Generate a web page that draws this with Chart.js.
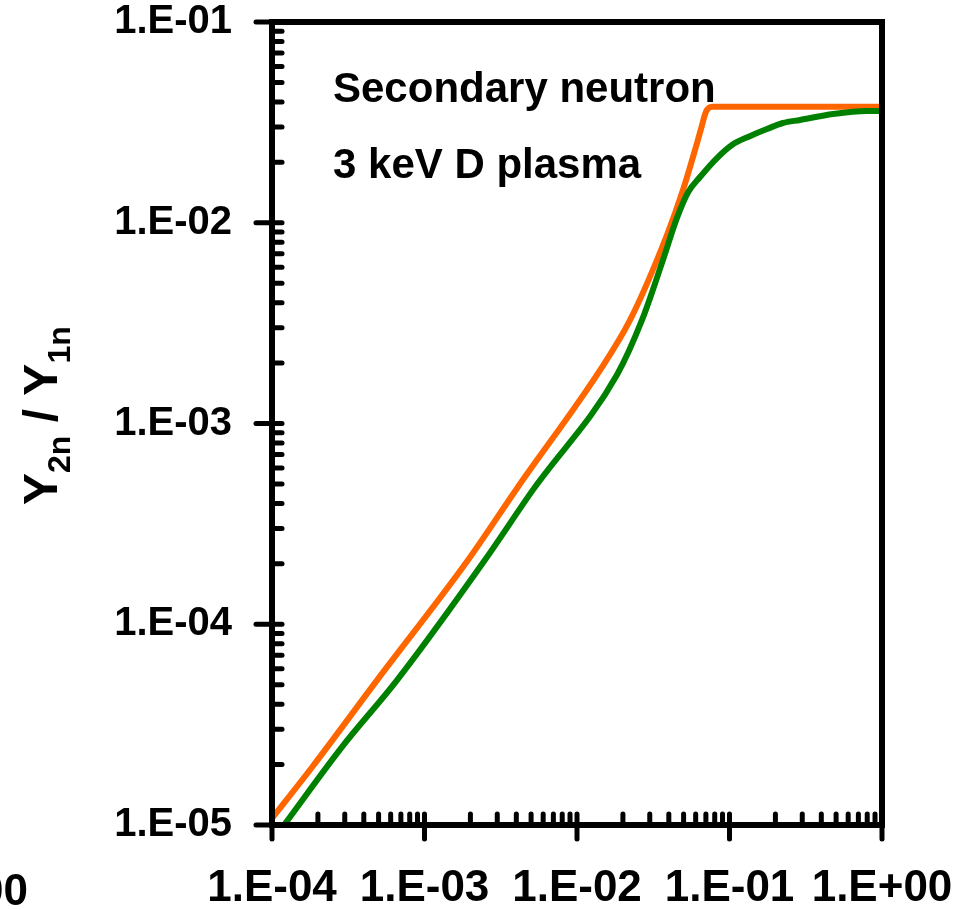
<!DOCTYPE html>
<html>
<head>
<meta charset="utf-8">
<title>Secondary neutron - 3 keV D plasma</title>
<script src="https://cdn.jsdelivr.net/npm/chart.js@4.4.1/dist/chart.umd.min.js"></script>
<style>
  html, body { margin: 0; padding: 0; background: #fff; }
  #wrap { width: 960px; height: 910px; }
</style>
</head>
<body>
<div id="wrap"><canvas id="ratioChart" width="960" height="910"></canvas></div>
<script>
// values (log-log)
const orangeX = [1.0e-4, 1.83e-4, 4.89e-4, 1.93e-3, 4.10e-3, 1.42e-2, 2.23e-2, 3.89e-2, 4.96e-2, 6.12e-2, 6.61e-2, 7.01e-2, 7.67e-2, 1.0];
const orangeY = [1.08e-5, 1.94e-5, 5.27e-5, 2.09e-4, 4.83e-4, 1.85e-3, 3.28e-3, 8.69e-3, 1.46e-2, 2.49e-2, 3.07e-2, 3.57e-2, 3.78e-2, 3.78e-2];

const greenX = [1.20e-4, 2.88e-4, 6.61e-4, 2.49e-3, 5.14e-3, 1.83e-2, 2.67e-2, 3.66e-2, 4.53e-2, 5.35e-2, 6.41e-2, 8.28e-2, 0.1038, 0.136, 0.176, 0.224, 0.290, 0.478, 0.798, 1.0];
const greenY = [1.0e-5, 2.45e-5, 5.27e-5, 2.09e-4, 4.67e-4, 1.75e-3, 3.28e-3, 6.52e-3, 1.06e-2, 1.42e-2, 1.69e-2, 2.10e-2, 2.44e-2, 2.70e-2, 2.93e-2, 3.14e-2, 3.25e-2, 3.48e-2, 3.60e-2, 3.60e-2];

const xTickValues = [1e-4, 1e-3, 1e-2, 1e-1, 1];
const xTickLabels = ['1.E-04', '1.E-03', '1.E-02', '1.E-01', '1.E+00'];
const yTickValues = [1e-5, 1e-4, 1e-3, 1e-2, 1e-1];
const yTickLabels = ['1.E-05', '1.E-04', '1.E-03', '1.E-02', '1.E-01'];
const minorSteps = [2, 3, 4, 5, 6, 7, 8, 9];

const noteLines = ['Secondary neutron', '3 keV D plasma'];
const strayLabel = '1.E+00'; // cut-off label of the neighbouring panel

const FONT = '"Liberation Sans", Arial, Helvetica, sans-serif';

function toPoints(xs, ys) {
  return xs.map((x, i) => ({ x, y: ys[i] }));
}

function strokeLine(ctx, x1, y1, x2, y2) {
  ctx.beginPath();
  ctx.moveTo(x1, y1);
  ctx.lineTo(x2, y2);
  ctx.stroke();
}

const framePlugin = {
  id: 'frame',
  afterDatasetsDraw(chart) {
    const { ctx, chartArea: area, scales } = chart;
    ctx.save();
    ctx.strokeStyle = '#000';
    ctx.lineWidth = 6;
    ctx.strokeRect(area.left, area.top, area.right - area.left, area.bottom - area.top);

    ctx.lineWidth = 5;
    ctx.lineCap = 'round';

    // y axis ticks: minor inward, major crossing
    yTickValues.forEach((v, i) => {
      const py = scales.y.getPixelForValue(v);
      strokeLine(ctx, area.left - 16, py, area.left + 10, py);
      if (i < yTickValues.length - 1) {
        minorSteps.forEach((m) => {
          const my = scales.y.getPixelForValue(m * v);
          strokeLine(ctx, area.left, my, area.left + 10, my);
        });
      }
    });

    // x axis ticks
    xTickValues.forEach((v, i) => {
      const px = scales.x.getPixelForValue(v);
      strokeLine(ctx, px, area.bottom + 14, px, area.bottom - 11);
      if (i < xTickValues.length - 1) {
        minorSteps.forEach((m) => {
          const mx = scales.x.getPixelForValue(m * v);
          strokeLine(ctx, mx, area.bottom, mx, area.bottom - 11);
        });
      }
    });
    ctx.restore();
  },
  afterDraw(chart) {
    const { ctx, chartArea: area } = chart;
    ctx.save();
    ctx.fillStyle = '#000';

    // notes inside the plot
    ctx.font = `bold 42px ${FONT}`;
    ctx.textAlign = 'left';
    ctx.textBaseline = 'alphabetic';
    ctx.fillText(noteLines[0], area.left + 61, 102);
    ctx.fillText(noteLines[1], area.left + 61, 178);

    // stray label at bottom left
    ctx.font = `bold 44px ${FONT}`;
    ctx.textAlign = 'right';
    ctx.fillText(strayLabel, 28, 905);

    // rotated y title: Y2n / Y1n
    ctx.translate(57, 505);
    ctx.rotate(-Math.PI / 2);
    ctx.textAlign = 'left';
    const parts = [
      { t: 'Y', size: 48, dy: 0 },
      { t: '2n', size: 32, dy: 13 },
      { t: ' / ', size: 48, dy: 0 },
      { t: 'Y', size: 48, dy: 0 },
      { t: '1n', size: 32, dy: 13 },
    ];
    let cx = 0;
    parts.forEach((p) => {
      ctx.font = `bold ${p.size}px ${FONT}`;
      ctx.fillText(p.t, cx, p.dy);
      cx += ctx.measureText(p.t).width;
    });
    ctx.restore();
  },
};

function tickFont(size) {
  return { family: FONT, size, weight: 'bold', lineHeight: 1 };
}

// invisible tick marks: only used to push the labels away from the axis
function hiddenGrid(length) {
  return {
    display: true,
    drawOnChartArea: false,
    drawTicks: true,
    tickLength: length,
    color: 'rgba(0,0,0,0)',
    tickColor: 'rgba(0,0,0,0)',
  };
}

function lineDataset(label, xs, ys, color) {
  return {
    label,
    data: toPoints(xs, ys),
    borderColor: color,
    borderWidth: 6,
    pointRadius: 0,
    cubicInterpolationMode: 'monotone',
    fill: false,
    borderJoinStyle: 'round',
    borderCapStyle: 'round',
  };
}

function initChart() {
  const context = document.getElementById('ratioChart').getContext('2d');
  return new Chart(context, {
    type: 'line',
    data: {
      datasets: [
        lineDataset('green', greenX, greenY, '#008000'),
        lineDataset('orange', orangeX, orangeY, '#FF6600'),
      ],
    },
    options: {
      responsive: false,
      animation: false,
      devicePixelRatio: 1,
      layout: { padding: { top: 22, right: 78, bottom: 0, left: 0 } },
      plugins: {
        legend: { display: false },
        tooltip: { enabled: false },
      },
      scales: {
        x: {
          type: 'logarithmic',
          min: 1e-4,
          max: 1,
          grid: hiddenGrid(42),
          border: { display: false },
          afterBuildTicks: (scale) => {
            scale.ticks = xTickValues.map((value) => ({ value }));
          },
          afterFit: (scale) => {
            scale.height = 85;
          },
          ticks: {
            autoSkip: false,
            maxRotation: 0,
            padding: 0,
            color: '#000',
            font: tickFont(44),
            callback: (value, index) => xTickLabels[index],
          },
        },
        y: {
          type: 'logarithmic',
          min: 1e-5,
          max: 1e-1,
          grid: hiddenGrid(40),
          border: { display: false },
          afterBuildTicks: (scale) => {
            scale.ticks = yTickValues.map((value) => ({ value }));
          },
          afterFit: (scale) => {
            scale.width = 272;
          },
          ticks: {
            autoSkip: false,
            padding: 0,
            color: '#000',
            font: tickFont(40),
            callback: (value, index) => yTickLabels[index],
          },
        },
      },
    },
    plugins: [framePlugin],
  });
}

initChart();
</script>
</body>
</html>
